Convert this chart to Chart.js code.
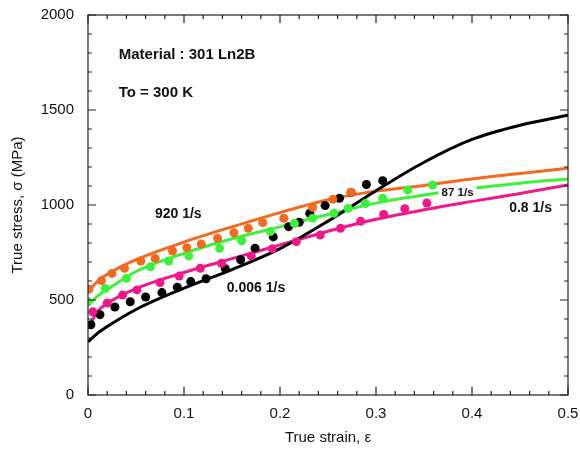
<!DOCTYPE html>
<html>
<head>
<meta charset="utf-8">
<script src="https://cdn.jsdelivr.net/npm/chart.js@4.4.1/dist/chart.umd.min.js"></script>
<style>
html, body { margin: 0; padding: 0; background: #fff; }
</style>
</head>
<body>
<canvas id="chart-area" width="580" height="449"></canvas>
<script>
// fitted curves, sampled at these strains
var fitStrain = [0, 0.01, 0.02, 0.05, 0.1, 0.15, 0.2, 0.25, 0.3, 0.35, 0.4, 0.45, 0.5];
var fit920 = [545, 598, 635, 712, 805, 885, 960, 1028, 1073, 1103, 1137, 1166, 1193];
var fit87 = [470, 520, 555, 650, 745, 822, 885, 950, 1010, 1053, 1088, 1115, 1137];
var fit08 = [350, 440, 482, 560, 645, 718, 790, 862, 925, 975, 1019, 1061, 1105];
var fit0006 = [280, 325, 360, 450, 562, 660, 770, 915, 1075, 1225, 1345, 1420, 1472];

// measured points
var exp920x = [0.001, 0.014, 0.025, 0.038, 0.055, 0.070, 0.088, 0.103, 0.118, 0.135, 0.152, 0.167, 0.182, 0.204, 0.234, 0.255, 0.274];
var exp920y = [556, 602, 640, 667, 705, 719, 758, 775, 795, 825, 854, 877, 907, 930, 988, 1030, 1067];
var exp87x = [0.000, 0.018, 0.040, 0.065, 0.084, 0.105, 0.137, 0.160, 0.190, 0.215, 0.234, 0.256, 0.271, 0.289, 0.307, 0.333, 0.359];
var exp87y = [491, 561, 614, 675, 705, 732, 772, 812, 860, 903, 930, 956, 982, 1008, 1035, 1079, 1105];
var exp08x = [0.005, 0.020, 0.036, 0.051, 0.075, 0.095, 0.117, 0.139, 0.170, 0.192, 0.217, 0.242, 0.263, 0.284, 0.308, 0.330, 0.353];
var exp08y = [438, 484, 526, 553, 592, 626, 667, 693, 732, 770, 807, 842, 877, 914, 950, 980, 1010];
var exp0006x = [0.003, 0.0125, 0.028, 0.044, 0.060, 0.077, 0.093, 0.107, 0.123, 0.143, 0.159, 0.174, 0.193, 0.209, 0.220, 0.231, 0.247, 0.262, 0.274, 0.290, 0.307];
var exp0006y = [370, 423, 463, 491, 516, 539, 567, 597, 612, 665, 712, 773, 832, 886, 909, 956, 997, 1035, 1066, 1108, 1128];

var xTicks = [0, 0.1, 0.2, 0.3, 0.4, 0.5];
var yTicks = [0, 500, 1000, 1500, 2000];

var ORANGE = '#f26a1e', GREEN = '#3ef03a', PINK = '#f0178a', BLACK = '#000000';

function pts(xs, ys) {
    return xs.map(function (x, i) { return { x: x, y: ys[i] }; });
}

function lineSet(ys, color) {
    return {
        type: 'line',
        data: pts(fitStrain, ys),
        borderColor: color,
        borderWidth: 3,
        pointRadius: 0,
        cubicInterpolationMode: 'monotone',
        fill: false,
        order: 2
    };
}

function dotSet(xs, ys, color) {
    return {
        type: 'scatter',
        data: pts(xs, ys),
        backgroundColor: color,
        borderColor: color,
        pointRadius: 4.5,
        borderWidth: 0,
        order: 1
    };
}

// inward ticks on all four sides, plus the top/right frame
var frame = {
    id: 'frame',
    afterDraw: function (chart) {
        var ctx = chart.ctx, a = chart.chartArea;
        var xs = chart.scales.x, ys = chart.scales.y;
        ctx.save();
        ctx.strokeStyle = '#222';
        ctx.lineWidth = 1.2;
        ctx.strokeRect(a.left, a.top, a.right - a.left, a.bottom - a.top);
        ctx.beginPath();
        var i, p, len;
        for (i = 0; i <= 25; i++) {
            p = xs.getPixelForValue(i * 0.02);
            len = (i % 5 === 0) ? 8 : 4;
            ctx.moveTo(p, a.bottom); ctx.lineTo(p, a.bottom - len);
            ctx.moveTo(p, a.top); ctx.lineTo(p, a.top + len);
        }
        for (i = 0; i <= 20; i++) {
            p = ys.getPixelForValue(i * 100);
            len = (i % 5 === 0) ? 8 : 4;
            ctx.moveTo(a.left, p); ctx.lineTo(a.left + len, p);
            ctx.moveTo(a.right, p); ctx.lineTo(a.right - len, p);
        }
        ctx.stroke();
        ctx.restore();
    }
};

// rate labels and material note
var notes = {
    id: 'notes',
    afterDatasetsDraw: function (chart) {
        var ctx = chart.ctx;
        var xs = chart.scales.x, ys = chart.scales.y;
        var items = [
            { t: 'Material : 301 Ln2B', x: 0.032, y: 1789, size: 15, align: 'left' },
            { t: 'To = 300 K', x: 0.032, y: 1589, size: 15, align: 'left' },
            { t: '920 1/s', x: 0.094, y: 950, size: 14, align: 'center' },
            { t: '0.006 1/s', x: 0.175, y: 563, size: 14, align: 'center' },
            { t: '87 1/s', x: 0.385, y: 1063, size: 11.5, align: 'center', box: true },
            { t: '0.8 1/s', x: 0.461, y: 982, size: 14, align: 'center' }
        ];
        ctx.save();
        ctx.textBaseline = 'middle';
        items.forEach(function (it) {
            var px = xs.getPixelForValue(it.x), py = ys.getPixelForValue(it.y);
            ctx.font = 'bold ' + it.size + 'px "Liberation Sans", Arial, sans-serif';
            ctx.textAlign = it.align;
            if (it.box) {
                var w = ctx.measureText(it.t).width;
                ctx.fillStyle = '#fff';
                ctx.fillRect(px - w / 2 - 3, py - it.size / 2 - 1, w + 6, it.size + 2);
            }
            ctx.fillStyle = '#111';
            ctx.fillText(it.t, px, py);
        });
        ctx.restore();
    }
};

var tickFont = { family: '"Liberation Sans", Arial, sans-serif', size: 15 };
var plain = function (v) { return String(v); };

var config = {
    type: 'scatter',
    data: {
        datasets: [
            dotSet(exp920x, exp920y, ORANGE),
            dotSet(exp87x, exp87y, GREEN),
            dotSet(exp08x, exp08y, PINK),
            dotSet(exp0006x, exp0006y, BLACK),
            lineSet(fit0006, BLACK),
            lineSet(fit920, ORANGE),
            lineSet(fit87, GREEN),
            lineSet(fit08, PINK)
        ]
    },
    options: {
        responsive: false,
        animation: false,
        layout: { padding: { top: 15, right: 12, left: 0, bottom: 0 } },
        plugins: { legend: { display: false }, tooltip: { enabled: false } },
        scales: {
            x: {
                type: 'linear', min: 0, max: 0.5,
                afterBuildTicks: function (s) { s.ticks = xTicks.map(function (v) { return { value: v }; }); },
                ticks: { font: tickFont, color: '#111', padding: 10, callback: plain },
                grid: { display: false, drawTicks: false },
                border: { display: false },
                title: { display: true, text: 'True strain, ε', font: tickFont, color: '#111', padding: { top: 0, bottom: 2 } },
                afterFit: function (s) {
                    s.height = 54;
                    s.paddingLeft = 0; s.paddingRight = 0;
                }
            },
            y: {
                type: 'linear', min: 0, max: 2000,
                afterBuildTicks: function (s) { s.ticks = yTicks.map(function (v) { return { value: v }; }); },
                ticks: { font: tickFont, color: '#111', padding: 14, callback: plain },
                grid: { display: false, drawTicks: false },
                border: { display: false },
                title: { display: true, text: 'True stress, σ (MPa)', font: tickFont, color: '#111', padding: { top: 9, bottom: 0 } },
                afterFit: function (s) {
                    s.width = 88;
                    s.paddingTop = 0; s.paddingBottom = 0;
                }
            }
        }
    },
    plugins: [notes, frame]
};

window.onload = function () {
    var ctx = document.getElementById('chart-area').getContext('2d');
    window.myChart = new Chart(ctx, config);
};
</script>
</body>
</html>
